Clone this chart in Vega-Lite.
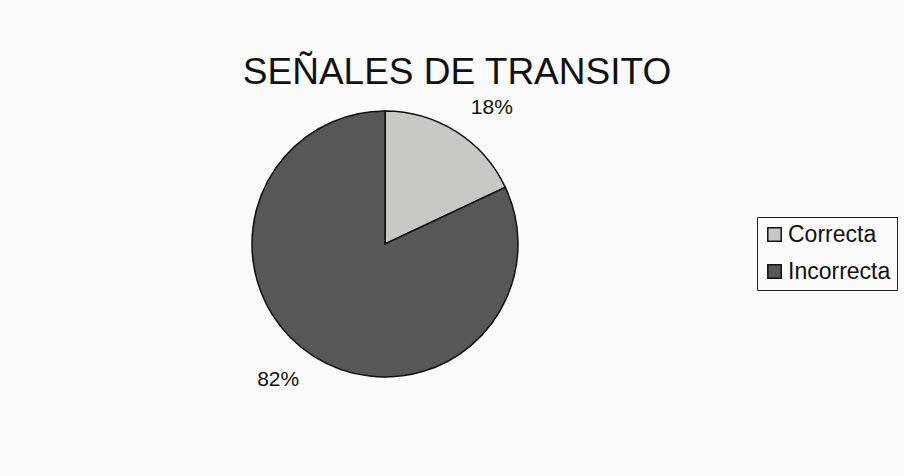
{
  "$schema": "https://vega.github.io/schema/vega-lite/v6.json",
  "autosize": "none",
  "width": 770,
  "height": 464,
  "padding": {"left": 0, "top": 12, "right": 134, "bottom": 0},
  "background": "#fbfbfb",
  "view": {"stroke": null},
  "title": {
    "text": "SEÑALES DE TRANSITO",
    "font": "Liberation Sans",
    "fontSize": 37,
    "fontWeight": "normal",
    "color": "#111111",
    "anchor": "middle",
    "baseline": "alphabetic",
    "offset": 0,
    "dx": 72,
    "dy": 109
  },
  "data": {
    "values": [
      {"respuesta": "Correcta", "porcentaje": 18, "etiqueta": "18%"},
      {"respuesta": "Incorrecta", "porcentaje": 82, "etiqueta": "82%"}
    ]
  },
  "encoding": {
    "theta": {"field": "porcentaje", "type": "quantitative", "stack": true},
    "order": {"field": "respuesta", "sort": "ascending"}
  },
  "layer": [
    {
      "mark": {"type": "arc", "radius": 133, "stroke": "#111111", "strokeWidth": 1.5},
      "encoding": {
        "color": {
          "field": "respuesta",
          "type": "nominal",
          "scale": {"domain": ["Correcta", "Incorrecta"], "range": ["#c8c8c6", "#575757"]},
          "legend": {
            "title": null,
            "orient": "none",
            "legendX": 757,
            "legendY": 205,
            "padding": 6,
            "strokeColor": "#222222",
            "fillColor": "#fbfbfb",
            "cornerRadius": 0,
            "symbolType": "square",
            "symbolSize": 180,
            "symbolStrokeColor": "#111111",
            "symbolStrokeWidth": 1.5,
            "symbolOpacity": 1,
            "labelFont": "Liberation Sans",
            "labelFontSize": 23,
            "labelColor": "#111111",
            "labelOffset": 2,
            "rowPadding": 13
          }
        }
      }
    },
    {
      "mark": {"type": "text", "radius": 173, "thetaOffset": 0.1, "font": "Liberation Sans", "fontSize": 21, "color": "#111111"},
      "encoding": {
        "text": {"field": "etiqueta", "type": "nominal"}
      }
    }
  ]
}
